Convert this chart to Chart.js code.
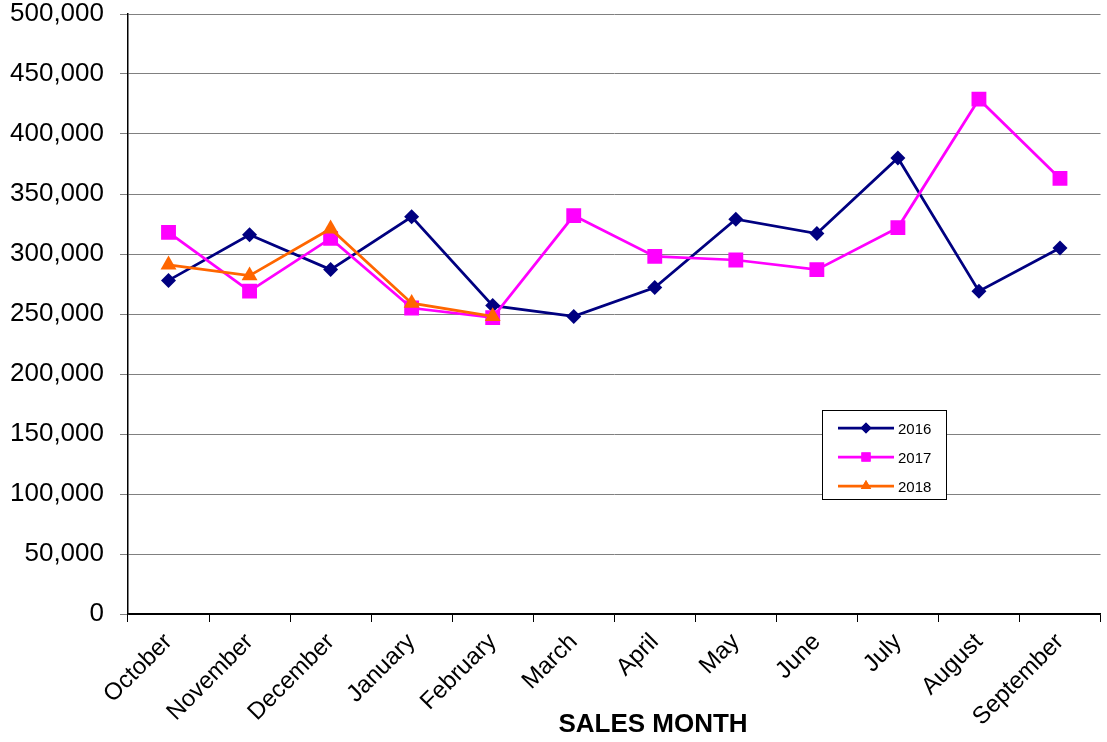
<!DOCTYPE html>
<html>
<head>
<meta charset="utf-8">
<script src="https://cdn.jsdelivr.net/npm/chart.js@4"></script>
<style>
  html, body { margin: 0; padding: 0; background: #fff; overflow: hidden; }
  #wrap { position: relative; width: 1107px; height: 742px; overflow: hidden; }
  #chart { display: block; }
  #legend {
    position: absolute; left: 822px; top: 410px; width: 125px; height: 90px;
    border: 1px solid #000; background: #fff; box-sizing: border-box;
    font-family: "Liberation Sans", Arial, sans-serif; font-size: 15px; color: #000;
  }
  #legend .row { position: absolute; left: 0; height: 20px; display: flex; align-items: center; }
  #legend canvas { display: block; }
  #legend span { margin-left: 4px; }
</style>
</head>
<body>
<div id="wrap">
  <!-- a few px wider than the page: the rotated last label keeps a margin on the right -->
  <canvas id="chart" width="1111" height="742"></canvas>
  <div id="legend"></div>
</div>
<script>
const months = ['October', 'November', 'December', 'January', 'February', 'March',
                'April', 'May', 'June', 'July', 'August', 'September'];
const sales2016 = [278000, 316000, 287000, 331000, 257000, 248000, 272000, 329000, 317000, 380000, 269000, 305000];
const sales2017 = [318000, 269000, 313000, 255000, 247000, 332000, 298000, 295000, 287000, 322000, 429000, 363000];
const sales2018 = [291000, 282000, 321000, 259000, 248000, null, null, null, null, null, null, null];
const yTicks = [0, 50000, 100000, 150000, 200000, 250000, 300000, 350000, 400000, 450000, 500000];
const axisTitle = 'SALES MONTH';

const series = [
  { label: '2016', data: sales2016, color: '#000080', style: 'rectRot', radius: 7.5, legendRadius: 5.5, order: 3 },
  { label: '2017', data: sales2017, color: '#FF00FF', style: 'rect', radius: 10.5, legendRadius: 6.5, order: 2 },
  { label: '2018', data: sales2018, color: '#FF6600', style: 'triangle', radius: 9.2, legendRadius: 6, order: 1 },
];

const font = '"Liberation Sans", Arial, sans-serif';

// x axis title sits a little right of the plot centre, so it is drawn by hand
const bottomTitle = {
  id: 'bottomTitle',
  afterDraw(chart) {
    const g = chart.ctx;
    g.save();
    g.font = 'bold 26px ' + font;
    g.fillStyle = '#000';
    g.textAlign = 'center';
    g.textBaseline = 'middle';
    g.fillText(axisTitle, 653, 725);
    g.restore();
  },
};

// rotated month labels would otherwise reserve room at the edges
function noLabelPadding(axis) {
  axis._calculatePadding = function () {
    this.paddingLeft = 0; this.paddingRight = 0;
    this.paddingTop = 0; this.paddingBottom = 0;
  };
}

new Chart(document.getElementById('chart'), {
  type: 'line',
  data: {
    labels: months,
    datasets: series.map(s => ({
      label: s.label,
      data: s.data,
      borderColor: s.color,
      backgroundColor: s.color,
      borderWidth: 2.75,
      pointStyle: s.style,
      pointRadius: s.radius,
      pointHoverRadius: s.radius,
      pointBorderWidth: 0,
      tension: 0,
      spanGaps: false,
      order: s.order,
    })),
  },
  plugins: [bottomTitle],
  options: {
    responsive: false,
    animation: false,
    layout: { padding: { top: 14, right: 0, left: 0, bottom: 0 } },
    plugins: { legend: { display: false }, tooltip: { enabled: false } },
    scales: {
      x: {
        offset: true,
        beforeFit: noLabelPadding,
        afterFit: axis => { axis.height = 128; },
        grid: { offset: true, drawOnChartArea: false, color: '#000', tickLength: 8, tickColor: '#000' },
        border: { color: '#000', width: 1.5 },
        ticks: { color: '#000', font: { family: font, size: 24 }, maxRotation: 45, minRotation: 45, autoSkip: false, padding: 6 },
      },
      y: {
        min: 0, max: 500000,
        afterBuildTicks: axis => { axis.ticks = yTicks.map(v => ({ value: v })); },
        beforeFit: noLabelPadding,
        afterFit: axis => { axis.width = 128; },
        grid: {
          color: ctx => ctx.tick && ctx.tick.value === 0 ? '#000' : '#808080',
          lineWidth: 1, tickLength: 8, tickColor: '#808080',
        },
        border: { color: '#000', width: 1.5 },
        ticks: {
          color: '#000', font: { family: font, size: 26 }, padding: 16,
          callback: v => v.toLocaleString('en-US'),
        },
      },
    },
  },
});

// legend box drawn as html with small marker canvases
const legend = document.getElementById('legend');
series.forEach((s, i) => {
  const row = document.createElement('div');
  row.className = 'row';
  row.style.top = (7 + i * 29) + 'px';
  row.style.left = '15px';
  const c = document.createElement('canvas');
  c.width = 56; c.height = 20;
  const g = c.getContext('2d');
  g.strokeStyle = s.color; g.lineWidth = 2.75;
  g.beginPath(); g.moveTo(0, 10); g.lineTo(56, 10); g.stroke();
  g.fillStyle = s.color;
  Chart.helpers.drawPoint(g, { pointStyle: s.style, radius: s.legendRadius, borderWidth: 0 }, 28, 10);
  g.fill();
  row.appendChild(c);
  const t = document.createElement('span');
  t.textContent = s.label;
  row.appendChild(t);
  legend.appendChild(row);
});
</script>
</body>
</html>
